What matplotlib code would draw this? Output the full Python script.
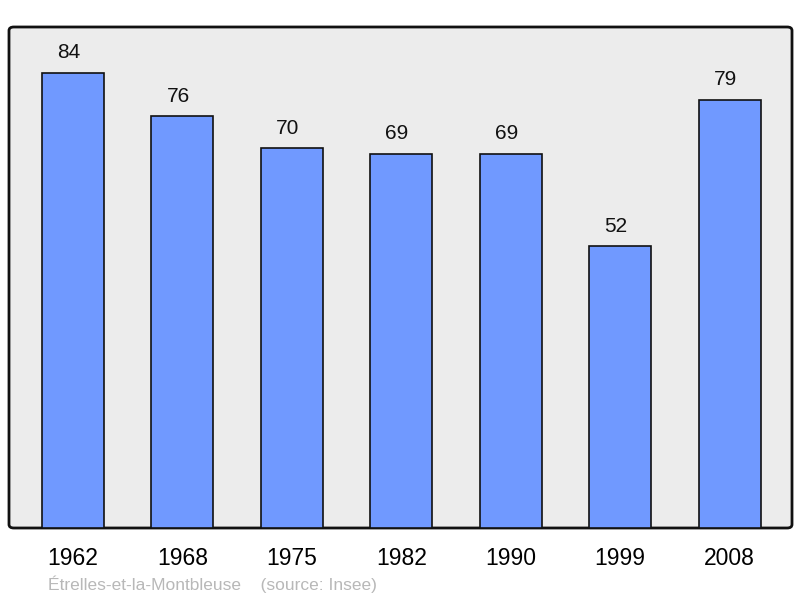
import matplotlib.pyplot as plt
from matplotlib.patches import FancyBboxPatch

plt.rcParams['font.family'] = ['Liberation Sans', 'DejaVu Sans']

years = ['1962', '1968', '1975', '1982', '1990', '1999', '2008']
population = [84, 76, 70, 69, 69, 52, 79]

fig = plt.figure(figsize=(8, 5.98), dpi=100)
ax = fig.add_axes([9 / 800, 70 / 598, 783 / 800, 501 / 598])
ax.set_facecolor('none')
ax.set_zorder(1)

# fond gris avec coins arrondis
bg = FancyBboxPatch((9 / 800, 70 / 598), 783 / 800, 501 / 598,
                    boxstyle='round,pad=0,rounding_size=0.006',
                    transform=fig.transFigure, facecolor='#ececec',
                    edgecolor='#111111', linewidth=2, zorder=-1)
fig.patches.append(bg)

x = range(len(years))
bars = ax.bar(x, population, width=0.567, color='#7099ff',
              edgecolor='#111111', linewidth=1.2, zorder=2)

for xi, v in zip(x, population):
    ax.annotate(str(v), (xi, v), xytext=(-3, 7.5), textcoords='offset points',
                ha='center', va='bottom', fontsize=15, color='#111111')

ax.set_xlim(-0.585, 6.571)
ax.set_ylim(0, 92.4)
ax.set_xticks(list(x))
ax.set_xticklabels(years, fontsize=16.5)
ax.tick_params(axis='x', length=0, pad=14)
ax.set_yticks([])
for s in ax.spines.values():
    s.set_visible(False)

fig.text(48 / 800, 1 - 584 / 598, 'Étrelles-et-la-Montbleuse    (source: Insee)',
         fontsize=12.5, color='#b8b8b8', ha='left', va='center')

fig.savefig('out.png', dpi=100)
